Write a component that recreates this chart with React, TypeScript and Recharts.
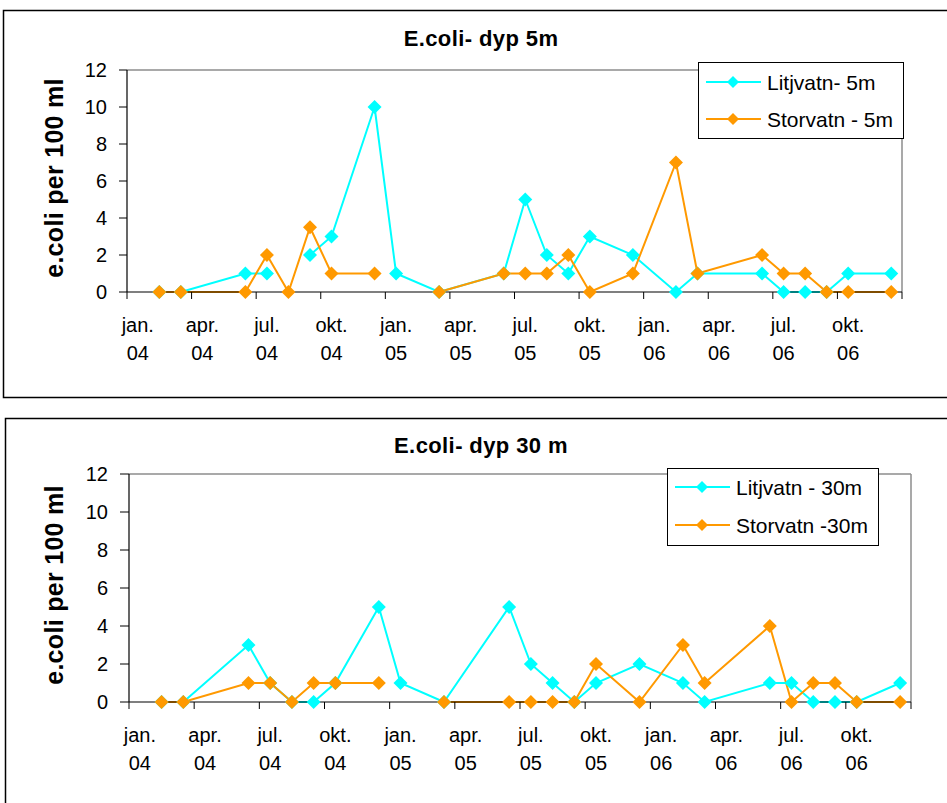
import React from 'react';
import { LineChart, Line, XAxis, YAxis, ReferenceLine, Legend } from 'recharts';

// month index: 0 = jan. 04 ... 35 = des. 06
const months = [1, 2, 5, 6, 7, 8, 9, 11, 12, 14, 17, 18, 19, 20, 21, 23, 25, 26, 29, 30, 31, 32, 33, 35];

const litjvatn5 = [0, 0, 1, 1, null, 2, 3, 10, 1, 0, 1, 5, 2, 1, 3, 2, 0, 1, 1, 0, 0, 0, 1, 1];
const storvatn5 = [0, 0, 0, 2, 0, 3.5, 1, 1, null, 0, 1, 1, 1, 2, 0, 1, 7, 1, 2, 1, 1, 0, 0, 0];

const litjvatn30 = [0, 0, 3, 1, 0, 0, 1, 5, 1, 0, 5, 2, 1, 0, 1, 2, 1, 0, 1, 1, 0, 0, 0, 1];
const storvatn30 = [0, 0, 1, 1, 0, 1, 1, 1, null, 0, 0, 0, 0, 0, 2, 0, 3, 1, 4, 0, 1, 1, 0, 0];

const seriesNames5 = ['Litjvatn- 5m', 'Storvatn - 5m'];
const seriesNames30 = ['Litjvatn - 30m', 'Storvatn -30m'];
const titles = ['E.coli- dyp 5m', 'E.coli- dyp 30 m'];
const yAxisTitle = 'e.coli per 100 ml';

const yTicks = [0, 2, 4, 6, 8, 10, 12];
const boundaryTicks = [-0.5, 2.5, 5.5, 8.5, 11.5, 14.5, 17.5, 20.5, 23.5, 26.5, 29.5, 32.5, 35.5];
const labelTicks = [0, 3, 6, 9, 12, 15, 18, 21, 24, 27, 30, 33];
const xTickLabels = [
  ['jan.', '04'], ['apr.', '04'], ['jul.', '04'], ['okt.', '04'],
  ['jan.', '05'], ['apr.', '05'], ['jul.', '05'], ['okt.', '05'],
  ['jan.', '06'], ['apr.', '06'], ['jul.', '06'], ['okt.', '06'],
];

const CYAN = '#00FFFF';
const ORANGE = '#FF9900';
const FONT = '"Liberation Sans", Arial, sans-serif';

const rows5 = months.map((m, i) => ({ m, a: litjvatn5[i], b: storvatn5[i] }));
const rows30 = months.map((m, i) => ({ m, a: litjvatn30[i], b: storvatn30[i] }));
const allTicks = [...boundaryTicks, ...labelTicks].sort((p, q) => p - q);

const XTick = (props: any) => {
  const { x, y, payload } = props;
  const v = payload.value;
  if (boundaryTicks.indexOf(v) >= 0) {
    return <line x1={x} x2={x} y1={y} y2={y + 7} stroke="#000" strokeWidth={1} />;
  }
  const li = labelTicks.indexOf(v);
  if (li < 0) return <g />;
  const [a, b] = xTickLabels[li];
  return (
    <text x={x} y={y} textAnchor="middle" fontSize={20} fill="#000" fontFamily={FONT}>
      <tspan x={x} dy={40}>{a}</tspan>
      <tspan x={x} dy={28}>{b}</tspan>
    </text>
  );
};

const makeDiamond = (color: string, r: number) => (props: any) => {
  const { cx, cy, index, value } = props;
  if (value == null || cx == null || cy == null || isNaN(cy)) return <g key={`d${index}`} />;
  return (
    <polygon
      key={`d${index}`}
      points={`${cx},${cy - r} ${cx + r},${cy} ${cx},${cy + r} ${cx - r},${cy}`}
      fill={color}
    />
  );
};

const makeLegend = (w: number, h: number, rowY: number[]) => (props: any) => {
  const payload = props.payload || [];
  return (
    <svg width={w} height={h} style={{ display: 'block' }}>
      <rect x={0.5} y={0.5} width={w - 1} height={h - 1} fill="#fff" stroke="#000" strokeWidth={1} />
      {payload.map((p: any, i: number) => {
        const cy = rowY[i];
        return (
          <g key={i}>
            <line x1={8} x2={63} y1={cy} y2={cy} stroke={p.color} strokeWidth={2} />
            <polygon points={`35,${cy - 6} 41,${cy} 35,${cy + 6} 29,${cy}`} fill={p.color} />
            <text x={69} y={cy + 7.5} fontSize={21} fill="#000" fontFamily={FONT}>{p.value}</text>
          </g>
        );
      })}
    </svg>
  );
};

type ChartProps = {
  data: any[];
  names: string[];
  height: number;
  margin: any;
  yWidth: number;
  yTickSize: number;
  legendPos: { left: number; top: number; width: number; height: number; rows: number[] };
};

const EColiChart = ({ data, names, height, margin, yWidth, yTickSize, legendPos }: ChartProps) => (
  <LineChart width={947} height={height} data={data} margin={margin}>
    <XAxis
      dataKey="m"
      type="number"
      domain={[-0.5, 35.5]}
      ticks={allTicks}
      interval={0}
      tick={<XTick />}
      tickLine={false}
      tickSize={0}
      tickMargin={0}
      height={60}
      axisLine={{ stroke: '#000', strokeWidth: 1.2 }}
      allowDataOverflow
    />
    <YAxis
      type="number"
      domain={[0, 12]}
      ticks={yTicks}
      interval={0}
      width={yWidth}
      stroke="#000"
      tickSize={yTickSize}
      tickMargin={12}
      tick={{ fill: '#000', fontSize: 20, fontFamily: FONT }}
      axisLine={{ stroke: '#000', strokeWidth: 1.2 }}
      tickLine={{ stroke: '#000' }}
    />
    <ReferenceLine y={12} stroke="#8c8c8c" strokeWidth={1.5} />
    <ReferenceLine x={35.5} stroke="#8c8c8c" strokeWidth={1.5} />
    <Line
      dataKey="a"
      name={names[0]}
      stroke={CYAN}
      strokeWidth={2}
      type="linear"
      connectNulls={false}
      dot={makeDiamond(CYAN, 7)}
      activeDot={false}
      isAnimationActive={false}
    />
    <Line
      dataKey="b"
      name={names[1]}
      stroke={ORANGE}
      strokeWidth={2}
      type="linear"
      connectNulls={false}
      dot={makeDiamond(ORANGE, 7)}
      activeDot={false}
      isAnimationActive={false}
    />
    <Legend
      layout="horizontal"
      verticalAlign="middle"
      align="center"
      width={legendPos.width}
      height={legendPos.height}
      wrapperStyle={{ left: legendPos.left, top: legendPos.top, width: legendPos.width, height: legendPos.height, margin: 0, padding: 0 }}
      content={makeLegend(legendPos.width, legendPos.height, legendPos.rows)}
    />
  </LineChart>
);

export default function App() {
  return (
    <div style={{ position: 'absolute', left: 0, top: 0, width: 947, height: 803, overflow: 'hidden', background: '#fff', fontFamily: FONT }}>
      <svg width={947} height={803} style={{ position: 'absolute', left: 0, top: 0 }}>
        <rect x={3.5} y={10.5} width={980} height={387} fill="none" stroke="#000" strokeWidth={1.5} />
        <rect x={5.5} y={418.5} width={980} height={420} fill="none" stroke="#000" strokeWidth={1.5} />
        <text x={481} y={46} textAnchor="middle" fontSize={22} fontWeight="bold" letterSpacing={0.4} fill="#000">{titles[0]}</text>
        <text x={481} y={453} textAnchor="middle" fontSize={22} fontWeight="bold" letterSpacing={0.4} fill="#000">{titles[1]}</text>
        <text transform="translate(63,178) rotate(-90)" textAnchor="middle" fontSize={25} fontWeight="bold" letterSpacing={0.3} fill="#000">{yAxisTitle}</text>
        <text transform="translate(63,585) rotate(-90)" textAnchor="middle" fontSize={25} fontWeight="bold" letterSpacing={0.3} fill="#000">{yAxisTitle}</text>
      </svg>
      <div style={{ position: 'absolute', left: 0, top: 0 }}>
        <EColiChart
          data={rows5}
          names={seriesNames5}
          height={400}
          margin={{ top: 70, right: 45, bottom: 48, left: 0 }}
          yWidth={127}
          yTickSize={8}
          legendPos={{ left: 698, top: 62, width: 206, height: 77, rows: [20, 57] }}
        />
      </div>
      <div style={{ position: 'absolute', left: 0, top: 404 }}>
        <EColiChart
          data={rows30}
          names={seriesNames30}
          height={399}
          margin={{ top: 70, right: 36, bottom: 41, left: 0 }}
          yWidth={129}
          yTickSize={9}
          legendPos={{ left: 667, top: 64, width: 212, height: 78, rows: [19, 57] }}
        />
      </div>
    </div>
  );
}
